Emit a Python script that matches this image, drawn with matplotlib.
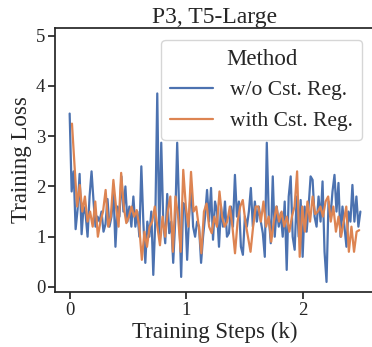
import numpy as np
import matplotlib
matplotlib.use("Agg")
import matplotlib.pyplot as plt
import seaborn as sns

sns.set_theme(style="ticks")
plt.rcParams['font.family'] = ['Liberation Serif', 'DejaVu Serif']

title = "P3, T5-Large"
xlabel = "Training Steps (k)"
ylabel = "Training Loss"
legend_title = "Method"
series_names = ["w/o Cst. Reg.", "with Cst. Reg."]

loss_wo = [3.45, 1.9, 2.3, 1.15, 1.55, 2.25, 1.05, 1.6, 1.45, 1.0, 1.8, 2.3, 1.7, 1.2,
           1.4, 1.3, 1.5, 1.1, 1.25, 1.75, 1.2, 1.4, 1.9, 0.8, 1.6, 1.4, 2.2, 1.5, 2.0,
           1.3, 1.6, 1.2, 1.8, 1.2, 1.5, 1.0, 2.4, 1.3, 0.48, 1.3, 1.0, 1.5, 0.24, 1.3,
           3.85, 1.0, 2.87, 1.3, 0.87, 1.85, 1.07, 1.3, 0.48, 1.3, 2.87, 1.5, 0.2, 1.67,
           1.6, 0.54, 1.4, 2.03, 1.2, 1.0, 1.3, 1.2, 0.48, 1.0, 1.4, 1.93, 1.3, 1.97,
           0.94, 1.7, 1.5, 0.8, 1.6, 1.2, 1.7, 1.0, 1.07, 1.6, 1.2, 2.23, 1.4, 1.7, 0.8,
           0.64, 1.4, 1.2, 1.5, 1.97, 1.2, 1.7, 1.3, 1.6, 1.3, 1.07, 0.6, 2.87, 1.4,
           0.87, 2.2, 1.0, 1.6, 1.2, 1.47, 1.0, 1.7, 0.34, 1.8, 2.2, 1.0, 0.74, 1.8, 1.0,
           1.73, 0.6, 1.6, 1.1, 1.6, 2.2, 2.13, 1.4, 1.2, 1.8, 1.3, 2.1, 0.7, 0.1, 1.7,
           1.4, 1.9, 2.23, 1.5, 2.07, 1.0, 1.6, 1.2, 0.8, 1.5, 1.3, 2.03, 1.3, 1.8, 1.2,
           1.5]

loss_with = [3.25, 2.4, 1.6, 2.03, 1.5, 1.8, 1.3, 1.5, 1.2, 1.7, 1.0, 1.3, 1.5, 1.93,
             1.2, 1.4, 2.13, 1.6, 1.2, 2.27, 1.6, 1.27, 1.4, 1.6, 1.4, 1.53, 1.2, 0.54,
             1.1, 0.8, 1.2, 1.3, 1.6, 1.2, 0.83, 1.4, 1.0, 1.5, 1.8, 0.7, 1.8, 1.4, 0.7,
             2.33, 1.6, 1.2, 2.29, 1.5, 1.6, 1.2, 0.67, 1.5, 1.66, 1.2, 1.07, 1.4, 1.2,
             1.9, 1.4, 1.2, 1.3, 1.6, 1.2, 0.67, 1.3, 1.6, 1.73, 1.3, 1.0, 0.7, 1.2, 1.6,
             1.6, 1.3, 1.7, 1.2, 1.4, 0.9, 1.3, 1.6, 1.3, 1.5, 1.2, 1.4, 1.1, 1.4, 1.6,
             2.3, 0.6, 1.6, 1.1, 1.7, 1.3, 1.8, 1.45, 1.5, 1.6, 1.4, 1.7, 1.8, 1.3, 1.6,
             1.1, 1.4, 1.0, 1.3, 1.6, 0.7, 1.2, 0.7, 1.1, 1.13]

steps_wo = np.linspace(0.0, 2.49, len(loss_wo))
steps_with = np.linspace(0.02, 2.48, len(loss_with))

fig = plt.figure(figsize=(3.72, 3.47), dpi=100)
ax = fig.add_axes([0.148, 0.1585, 0.86, 0.7605])
pal = sns.color_palette("deep")
ax.plot(steps_wo, loss_wo, color=pal[0], lw=1.6, label=series_names[0])
ax.plot(steps_with, loss_with, color=pal[1], lw=1.6, label=series_names[1])

ax.set_xlim(-0.125, 2.615)
ax.set_ylim(-0.1, 5.15)
ax.set_xticks([0, 1, 2])
ax.set_yticks([0, 1, 2, 3, 4, 5])
ax.tick_params(labelsize=13.5, length=5, pad=2)
ax.set_title(title, fontsize=17, pad=4)
ax.set_xlabel(xlabel, fontsize=16.5, labelpad=2)
ax.set_ylabel(ylabel, fontsize=16.5, labelpad=3)
leg = ax.legend(title=legend_title, fontsize=15.5, title_fontsize=16.5, loc="upper right",
                bbox_to_anchor=(0.959, 0.955), borderaxespad=0)
fig.savefig("out.png", dpi=100)
